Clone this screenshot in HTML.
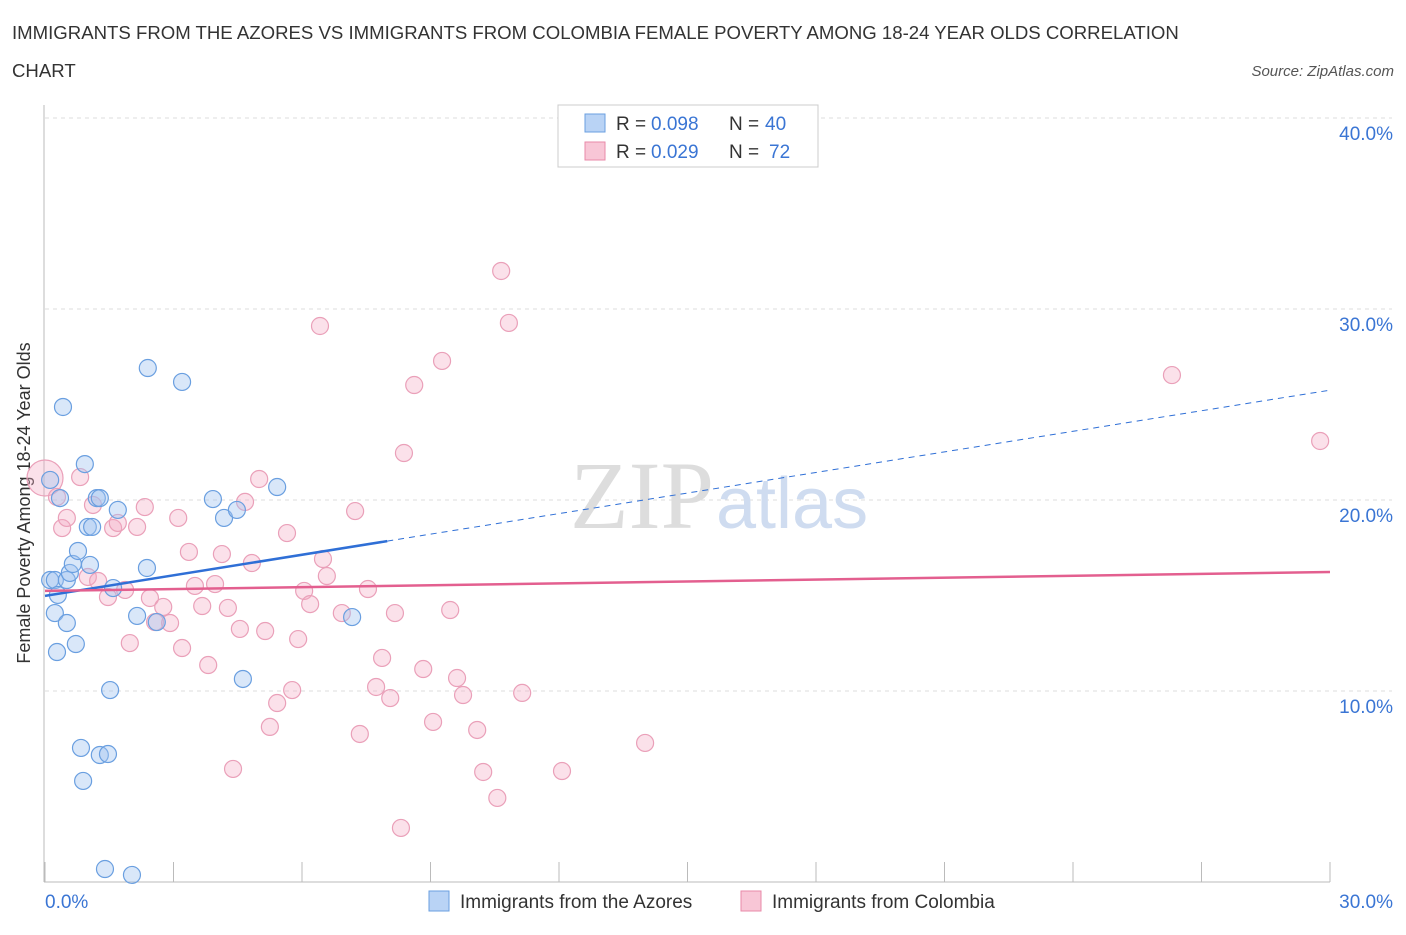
<!DOCTYPE html>
<html><head><meta charset="utf-8"><style>
body{margin:0;background:#fff;font-family:"Liberation Sans",sans-serif;}
</style></head><body>
<svg width="1406" height="930" xmlns="http://www.w3.org/2000/svg" font-family="Liberation Sans, sans-serif">
<text x="12" y="39" font-size="18.6" fill="#333">IMMIGRANTS FROM THE AZORES VS IMMIGRANTS FROM COLOMBIA FEMALE POVERTY AMONG 18-24 YEAR OLDS CORRELATION</text>
<text x="12" y="77" font-size="18.6" fill="#333">CHART</text>
<text x="1394" y="76" font-size="15" fill="#555" font-style="italic" text-anchor="end">Source: ZipAtlas.com</text>
<g id="grid"></g>
<text x="714" y="528" font-size="96" fill="#ddd" font-family="Liberation Serif, serif" text-anchor="end">ZIP</text>
<text x="716" y="528" font-size="72" fill="#cfdcf0">atlas</text>
<text x="20" y="493" font-size="18" fill="#333" transform="rotate(-90 30 493)" text-anchor="middle">Female Poverty Among 18-24 Year Olds</text>
<g id="marks"></g>
<g>
<rect x="558" y="105" width="260" height="62" fill="#fff" stroke="#ccc"/>
<rect x="585" y="114" width="20" height="18" fill="#b9d3f5" stroke="#6a9fe0"/>
<rect x="585" y="142" width="20" height="18" fill="#f8c6d6" stroke="#e88aa8"/>
<text x="616" y="130" font-size="19" fill="#333">R = </text>
<text x="651" y="130" font-size="19" fill="#3a75d4">0.098</text>
<text x="729" y="130" font-size="19" fill="#333">N = </text>
<text x="765" y="130" font-size="19" fill="#3a75d4">40</text>
<text x="616" y="158" font-size="19" fill="#333">R = </text>
<text x="651" y="158" font-size="19" fill="#3a75d4">0.029</text>
<text x="729" y="158" font-size="19" fill="#333">N = </text>
<text x="769" y="158" font-size="19" fill="#3a75d4">72</text>
</g>
<g>
<rect x="429" y="891" width="20" height="20" fill="#b9d3f5" stroke="#6a9fe0"/>
<text x="460" y="908" font-size="19" fill="#333">Immigrants from the Azores</text>
<rect x="741" y="891" width="20" height="20" fill="#f8c6d6" stroke="#e88aa8"/>
<text x="772" y="908" font-size="19" fill="#333">Immigrants from Colombia</text>
</g>
</svg>
<script>
const yTicks=[10,20,30,40];
const yTickLabels=["10.0%","20.0%","30.0%","40.0%"];
const xTickLabels=["0.0%","30.0%"];
const blueX=[0.12,0.12,0.23,0.30,0.23,0.28,0.42,0.35,0.51,0.51,0.58,0.65,0.72,0.77,0.93,1.00,1.10,1.05,1.21,1.28,1.70,1.59,1.52,0.84,0.89,1.28,1.47,1.40,2.03,2.40,2.38,2.15,2.61,3.20,3.92,4.18,4.48,4.62,5.42,7.17];
const blueY=[21.05,15.81,15.81,15.03,14.08,12.04,24.87,20.10,15.81,13.56,16.18,16.65,12.46,17.33,21.88,18.59,18.59,16.60,20.10,20.10,19.48,15.39,10.05,7.02,5.29,6.65,6.70,0.68,0.37,26.91,16.44,13.93,13.61,26.18,20.05,19.06,19.48,10.63,20.68,13.87];
const pinkX=[0,0.28,0.40,0.51,0.82,1.00,1.24,1.12,1.47,1.59,1.70,1.87,1.98,2.15,2.33,2.45,2.57,2.76,2.92,3.11,3.20,3.36,3.50,3.67,3.81,3.97,4.13,4.27,4.39,4.55,4.67,4.83,5.00,5.14,5.25,5.42,5.65,5.77,5.91,6.05,6.19,6.42,6.49,6.58,6.93,7.24,7.35,7.54,7.73,7.87,8.06,8.17,8.31,8.38,8.62,8.83,9.06,9.27,9.46,9.62,9.76,10.09,10.23,10.56,10.65,10.83,11.14,12.07,14.01,26.31,29.77];
const pinkY=[21.15,20.16,18.53,19.06,21.20,15.97,15.76,19.74,14.92,18.53,18.80,15.29,12.51,18.59,19.63,14.87,13.61,14.40,13.56,19.06,12.25,17.28,15.50,14.45,11.36,15.60,17.17,14.35,5.92,13.25,19.90,16.70,21.10,13.14,8.12,9.37,18.27,10.05,12.72,15.24,14.55,29.11,16.91,16.02,14.08,19.42,7.75,15.34,10.21,11.73,9.63,14.08,2.83,22.46,26.02,11.15,8.38,27.28,14.24,10.68,9.79,7.96,5.76,4.40,31.99,29.27,9.90,5.81,7.28,26.54,23.09];
const blueTrend=[14.98,25.75];
const blueSolidEnd=7.99;
const pinkTrend=[15.24,16.23];
const NS='http://www.w3.org/2000/svg';
const xS=v=>45+v*(1285/30);
const yS=v=>882-v*19.1;
function mk(tag,attrs,parent){const e=document.createElementNS(NS,tag);for(const k in attrs)e.setAttribute(k,attrs[k]);parent.appendChild(e);return e;}
const grid=document.getElementById('grid'),marks=document.getElementById('marks');
yTicks.forEach((t,i)=>{
 const l=mk('line',{x1:45,x2:1392,y1:yS(t),y2:yS(t),stroke:'#ddd','stroke-dasharray':'4,4'},grid);
 
 
 const tx=mk('text',{x:1393,y:yS(t)+22,'font-size':19,fill:'#3a75d4','text-anchor':'end'},grid);
 tx.textContent=yTickLabels[i];
 
 
});
const ax=mk('line',{x1:44,x2:44,y1:105,y2:882,stroke:'#bbb'},grid);


const bx=mk('line',{x1:44,x2:1330,y1:882,y2:882,stroke:'#bbb'},grid);


for(let i=0;i<=10;i++){
 const t=mk('line',{x1:xS(i*3),x2:xS(i*3),y1:862,y2:882,stroke:'#bbb'},grid);
 
 
}
[[0,'start',45],[30,'end',1393]].forEach((d,i)=>{
 const tx=mk('text',{x:d[2],y:908,'font-size':19,fill:'#3a75d4','text-anchor':d[1]},grid);
 tx.textContent=xTickLabels[i];
 
 
});
pinkX.forEach((x,i)=>{
 const c=mk('circle',{cx:xS(x),cy:yS(pinkY[i]),r:i===0?18:8.5,fill:'rgba(244,170,195,0.35)',stroke:'#eaa0b9','stroke-width':1.2},marks);
 
 
});
blueX.forEach((x,i)=>{
 const c=mk('circle',{cx:xS(x),cy:yS(blueY[i]),r:8.5,fill:'rgba(160,195,240,0.4)',stroke:'#6a9fe0','stroke-width':1.2},marks);
 
 
});
const bm=blueTrend[0]+(blueTrend[1]-blueTrend[0])*blueSolidEnd/30;
const b1=mk('line',{x1:xS(0),y1:yS(blueTrend[0]),x2:xS(blueSolidEnd),y2:yS(bm),stroke:'#2f6fd6','stroke-width':2.5},marks);


const b2=mk('line',{x1:xS(blueSolidEnd),y1:yS(bm),x2:xS(30),y2:yS(blueTrend[1]),stroke:'#2f6fd6','stroke-width':1,'stroke-dasharray':'6,5'},marks);


const p1=mk('line',{x1:xS(0),y1:yS(pinkTrend[0]),x2:xS(30),y2:yS(pinkTrend[1]),stroke:'#e35f8f','stroke-width':2.5},marks);


</script>
</body></html>
